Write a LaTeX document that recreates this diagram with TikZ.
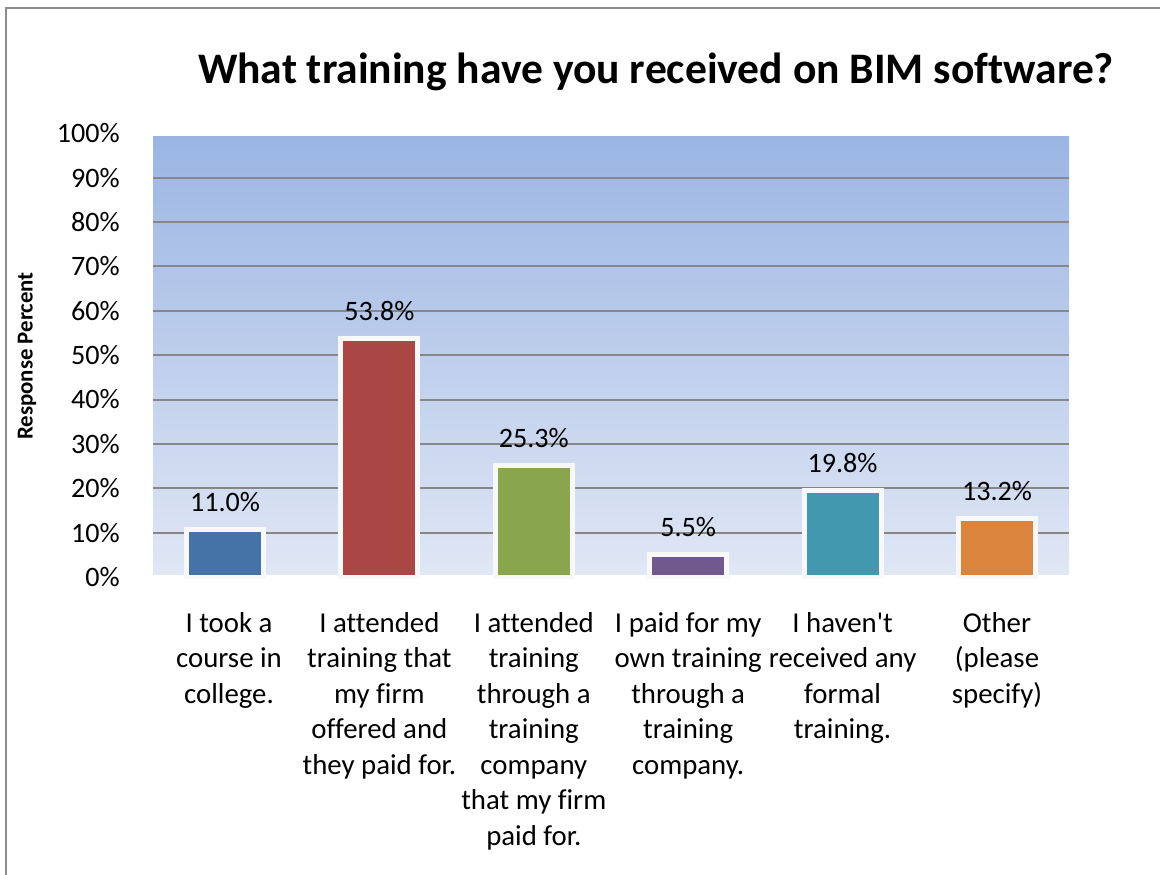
\documentclass[tikz,border=0pt]{standalone}
\usepackage{fontspec}
\setmainfont{Carlito}[Ligatures=NoCommon]
\definecolor{bgtop}{RGB}{155,181,227}
\definecolor{bgbot}{RGB}{224,231,245}
\definecolor{gridc}{RGB}{135,135,135}
\definecolor{framec}{RGB}{140,140,140}
\definecolor{bordc}{RGB}{248,248,248}
\definecolor{cA}{RGB}{69,114,167}
\definecolor{cB}{RGB}{170,70,67}
\definecolor{cC}{RGB}{137,165,78}
\definecolor{cD}{RGB}{113,88,143}
\definecolor{cE}{RGB}{65,152,175}
\definecolor{cF}{RGB}{219,132,61}
\tikzset{
  ticklab/.style={anchor=east,font=\fontsize{16}{19}\selectfont,inner sep=0pt},
  datalab/.style={font=\fontsize{16}{19}\selectfont,inner sep=0pt},
  catlab/.style={anchor=north,align=center,font=\fontsize{16.4}{20.2}\selectfont,inner sep=0pt},
  gridline/.style={draw=gridc,line width=1.1pt},
}
\begin{document}
\begin{tikzpicture}[x=0.02cm,y=-0.02cm]
\useasboundingbox (0,0) rectangle (1160,875);
\fill[white] (0,0) rectangle (1160,875);
% frame
\draw[framec,line width=0.9pt] (6,875) -- (6,8) -- (1160,8);
% title
\node[font=\fontsize{24.8}{29}\selectfont\bfseries,inner sep=0pt] (title) at (656,72) {What training have you received on BIM software?};
% plot background
\shade[top color=bgtop,bottom color=bgbot] (153,137) rectangle (1069,574);
% gridlines
\foreach \k in {1,...,9}{
  \draw[gridline] (153,{532.7-(\k-1)*44.375}) -- (1069,{532.7-(\k-1)*44.375});
}
% tick labels
\foreach \k in {0,...,10}{
  \node[ticklab] (t\k) at (120,{577-\k*44.375}) {\the\numexpr\k*10\relax\%};
}
% axis title
\node[rotate=90,font=\fontsize{13}{15}\selectfont\bfseries,inner sep=0pt] (ytitle) at (27,356) {Response Percent};
% bars
\foreach \i/\top/\c/\lab in {0/532.3/cA/11.0\%,1/341/cB/53.8\%,2/468.3/cC/25.3\%,3/557.3/cD/5.5\%,4/492.7/cE/19.8\%,5/521/cF/13.2\%}{
  \pgfmathsetmacro{\cx}{225+\i*154.4}
  \fill[bordc] (\cx-41,\top-5) rectangle (\cx+41,578.5);
  \fill[\c] (\cx-36,\top) rectangle (\cx+36,575.3);
  \node[datalab] (d\i) at (\cx,\top-30) {\lab};
}
% category labels
\node[catlab] (c0) at (229,612) {I took a\\course in\\college.};
\node[catlab] (c1) at (379.4,612) {I attended\\training that\\my firm\\offered and\\they paid for.};
\node[catlab] (c2) at (533.8,612) {I attended\\training\\through a\\training\\company\\that my firm\\paid for.};
\node[catlab] (c3) at (688.2,612) {I paid for my\\own training\\through a\\training\\company.};
\node[catlab] (c4) at (842.6,612) {I haven\textquotesingle t\\received any\\formal\\training.};
\node[catlab] (c5) at (997,612) {Other\\(please\\specify)};
\end{tikzpicture}
\end{document}
